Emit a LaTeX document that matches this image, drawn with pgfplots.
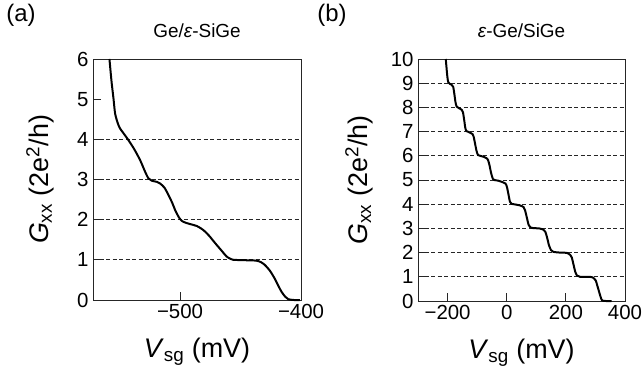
\documentclass[border=0pt]{standalone}
\usepackage{fontspec}
\setmainfont{Liberation Sans}
\usepackage{pgfplots}
\pgfplotsset{compat=1.18}

% Curve of panel (a): Ge / strained-SiGe
\pgfplotstableread{
x y
-558.4 6.00
-557.5 5.70
-556.5 5.39
-555.0 5.00
-553.7 4.64
-551.5 4.40
-549.6 4.27
-546.0 4.12
-542.7 3.98
-538.0 3.76
-533.0 3.48
-529.0 3.20
-526.2 3.03
-523.4 2.97
-519.0 2.94
-516.5 2.90
-513.0 2.80
-509.7 2.62
-506.5 2.42
-504.1 2.24
-501.0 2.06
-498.6 1.97
-495.0 1.92
-491.7 1.89
-486.0 1.84
-480.7 1.74
-476.0 1.60
-471.1 1.42
-466.0 1.24
-461.4 1.08
-458.0 1.02
-455.9 1.00
-446.0 0.99
-437.0 0.98
-433.0 0.94
-429.8 0.87
-425.5 0.72
-421.5 0.52
-418.5 0.34
-416.0 0.20
-413.0 0.08
-410.5 0.02
-406.0 0.00
-401.0 0.00
}\curveA

% Curve of panel (b): strained-Ge / SiGe
\pgfplotstableread{
x y
-206 10.00
-204 9.70
-201 9.30
-198 9.05
-193 8.98
-186 8.93
-181 8.85
-177 8.55
-173 8.20
-169 8.03
-163 7.98
-152 7.90
-148 7.80
-144 7.50
-140 7.15
-136 7.02
-128 6.98
-116 6.90
-112 6.80
-107 6.50
-102 6.20
-97 6.03
-90 6.00
-76 5.95
-66 5.88
-63 5.82
-58 5.60
-53 5.30
-47 5.05
-42 5.00
-28 4.97
-16 4.92
-4 4.85
1 4.70
6 4.40
11 4.10
16 4.02
28 3.99
45 3.95
57 3.88
62 3.75
68 3.45
74 3.15
80 3.04
90 3.01
110 3.00
125 2.94
131 2.85
137 2.60
143 2.30
150 2.10
158 2.03
180 2.00
203 1.99
215 1.90
220 1.80
226 1.50
232 1.20
238 1.05
248 1.00
280 1.00
293 0.96
301 0.85
306 0.65
312 0.40
318 0.15
323 0.02
335 0.00
355 0.00
}\curveB

\pgfplotsset{
  qpc/.style={
    scale only axis,
    axis line style={line width=0.9pt, black!85},
    tick align=inside,
    tick pos=left,
    major tick length=8bp,
    tick style={line width=0.9pt, black!85},
    ticklabel style={font=\fontsize{20.5}{20.5}\selectfont},
    /pgf/number format/assume math mode=true,
    xticklabel style={yshift=-1bp},
    yticklabel style={xshift=-1bp},
    label style={font=\fontsize{27}{27}\selectfont},
    title style={font=\fontsize{19}{19}\selectfont, at={(axis description cs:0.5,1.093)}, anchor=center},
    ylabel style={anchor=center},
    xlabel style={at={(axis description cs:0.5,-0.215)}, anchor=center},
    clip=false,
  },
  plateau/.style={black!85, line width=0.8pt, dash pattern=on 4bp off 2.5bp},
  trace/.style={black, line width=2pt, smooth, tension=0.45},
}

\begin{document}
\begin{tikzpicture}
\useasboundingbox (0,0) rectangle (643bp,375bp);

% ---- panel (a)
\begin{axis}[qpc,
  at={(93bp,75bp)}, anchor=south west,
  width=208bp, height=241bp,
  xmin=-572, xmax=-400, ymin=0, ymax=6,
  xtick={-500,-400}, xticklabels={−500,−400},
  ytick={0,1,2,3,4,5,6},
  title={Ge/\textit{ε}-SiGe},
  xlabel={\textit{V}\textsubscript{sg} (mV)},
  ylabel={\textit{G}\textsubscript{xx} (2e\textsuperscript{2}/h)},
  ylabel style={at={(axis description cs:-0.255,0.5)}},
]
\foreach \g in {1,2,3,4} {
  \edef\tmp{\noexpand\addplot[plateau] coordinates {(-572,\g) (-400,\g)};}
  \tmp
}
\addplot[trace] table[x=x,y=y] {\curveA};
\end{axis}

% ---- panel (b)
\begin{axis}[qpc,
  at={(418bp,74bp)}, anchor=south west,
  width=207bp, height=242bp,
  xmin=-300, xmax=400, ymin=0, ymax=10,
  xtick={-200,0,200,400}, xticklabels={−200,0,200,400},
  ytick={0,1,...,10},
  title={\textit{ε}-Ge/SiGe},
  xlabel={\textit{V}\textsubscript{sg} (mV)},
  ylabel={\textit{G}\textsubscript{xx} (2e\textsuperscript{2}/h)},
  ylabel style={at={(axis description cs:-0.285,0.5)}},
]
\foreach \g in {1,...,9} {
  \edef\tmp{\noexpand\addplot[plateau] coordinates {(-300,\g) (400,\g)};}
  \tmp
}
\addplot[trace] table[x=x,y=y] {\curveB};
\end{axis}

% panel letters
\node[font=\fontsize{24}{24}\selectfont] at (21bp,360bp) {(a)};
\node[font=\fontsize{24}{24}\selectfont] at (332bp,360bp) {(b)};
\end{tikzpicture}
\end{document}
